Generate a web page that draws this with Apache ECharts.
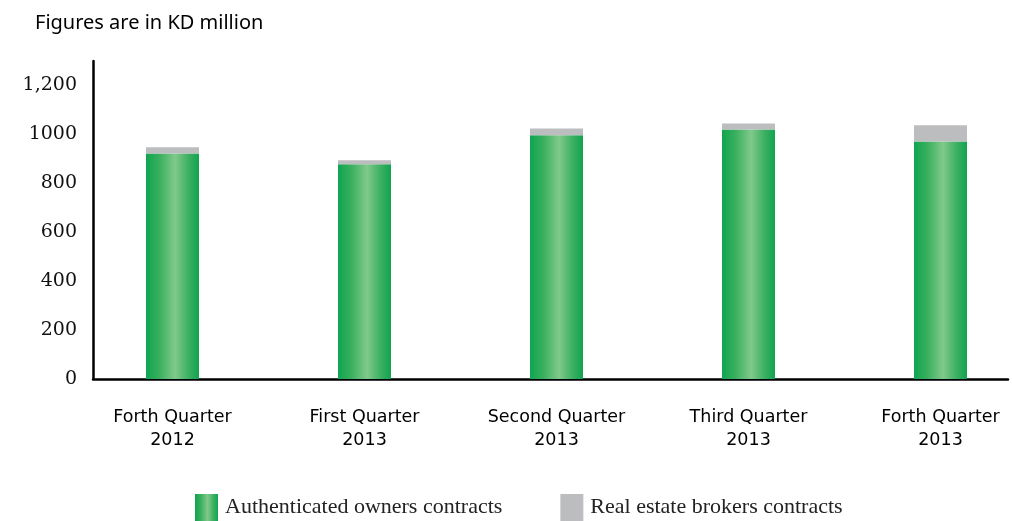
<!DOCTYPE html>
<html>
<head>
<meta charset="utf-8">
<script src="https://cdn.jsdelivr.net/npm/echarts@6/dist/echarts.min.js"></script>
<style>html,body{margin:0;padding:0;background:#fff}#c{width:1012px;height:521px}</style>
</head>
<body>
<div id="c"></div>
<script>
var categories = ['Forth Quarter\n2012', 'First Quarter\n2013', 'Second Quarter\n2013', 'Third Quarter\n2013', 'Forth Quarter\n2013'];
var ownersContracts = [922, 878, 996, 1020, 971];
var brokersContracts = [25, 16, 28, 25, 66];
var yTickLabels = {0: '0', 200: '200', 400: '400', 600: '600', 800: '800', 1000: '1000', 1200: '1,200'};

var chart = echarts.init(document.getElementById('c'), null, {renderer: 'canvas'});
var green = new echarts.graphic.LinearGradient(0, 0, 1, 0, [
  {offset: 0, color: '#0fa54f'},
  {offset: 0.25, color: '#3aaf5e'},
  {offset: 0.55, color: '#80c98b'},
  {offset: 0.8, color: '#3db062'},
  {offset: 1, color: '#0fa54f'}
]);
chart.setOption({
  animation: false,
  title: {
    text: 'Figures are in KD million',
    left: 30, top: 8,
    textStyle: {fontFamily: 'Noto Sans', fontSize: 20, fontWeight: 'normal', color: '#000'}
  },
  legend: {
    left: 195, top: 494, padding: 0,
    icon: 'rect',
    itemWidth: 23, itemHeight: 27, itemGap: 58,
    textStyle: {fontFamily: 'Liberation Serif', fontSize: 22, color: '#222', padding: [2, 0, 0, 2]},
    data: ['Authenticated owners contracts', 'Real estate brokers contracts']
  },
  grid: [
    {left: 76.5, width: 960, top: 61, bottom: 142, outerBoundsMode: 'none'},
    {left: 93, right: 4, top: 61, bottom: 142, outerBoundsMode: 'none'}
  ],
  xAxis: [
    {
      type: 'category', gridIndex: 0, data: categories,
      axisLine: {show: false}, axisTick: {show: false},
      axisLabel: {fontFamily: 'DejaVu Sans', fontSize: 17.5, color: '#000', lineHeight: 23, margin: 27, interval: 0}
    },
    {
      type: 'value', gridIndex: 1, min: 0, max: 1,
      axisLine: {show: true, onZero: false, lineStyle: {color: '#000', width: 2.5}},
      axisTick: {show: false}, axisLabel: {show: false}, splitLine: {show: false}
    }
  ],
  yAxis: [
    {
      type: 'value', gridIndex: 0, min: 0, max: 1300, interval: 200, offset: -16.5,
      axisLine: {show: true, lineStyle: {color: '#000', width: 2.5}},
      axisTick: {show: false}, splitLine: {show: false},
      axisLabel: {
        fontFamily: 'DejaVu Serif', fontSize: 19, color: '#111', margin: 16,
        padding: [0, 0, 8, 0],
        formatter: function (v) { return yTickLabels[v] !== undefined ? yTickLabels[v] : ''; }
      }
    },
    {
      type: 'value', gridIndex: 1, min: 0, max: 1, show: false
    }
  ],
  series: [
    {
      name: 'Authenticated owners contracts', type: 'bar', stack: 'total',
      xAxisIndex: 0, yAxisIndex: 0, barWidth: 53,
      itemStyle: {color: green}, data: ownersContracts
    },
    {
      name: 'Real estate brokers contracts', type: 'bar', stack: 'total',
      xAxisIndex: 0, yAxisIndex: 0, barWidth: 53,
      itemStyle: {color: '#bcbdbf'}, data: brokersContracts
    }
  ]
});
</script>
</body>
</html>
